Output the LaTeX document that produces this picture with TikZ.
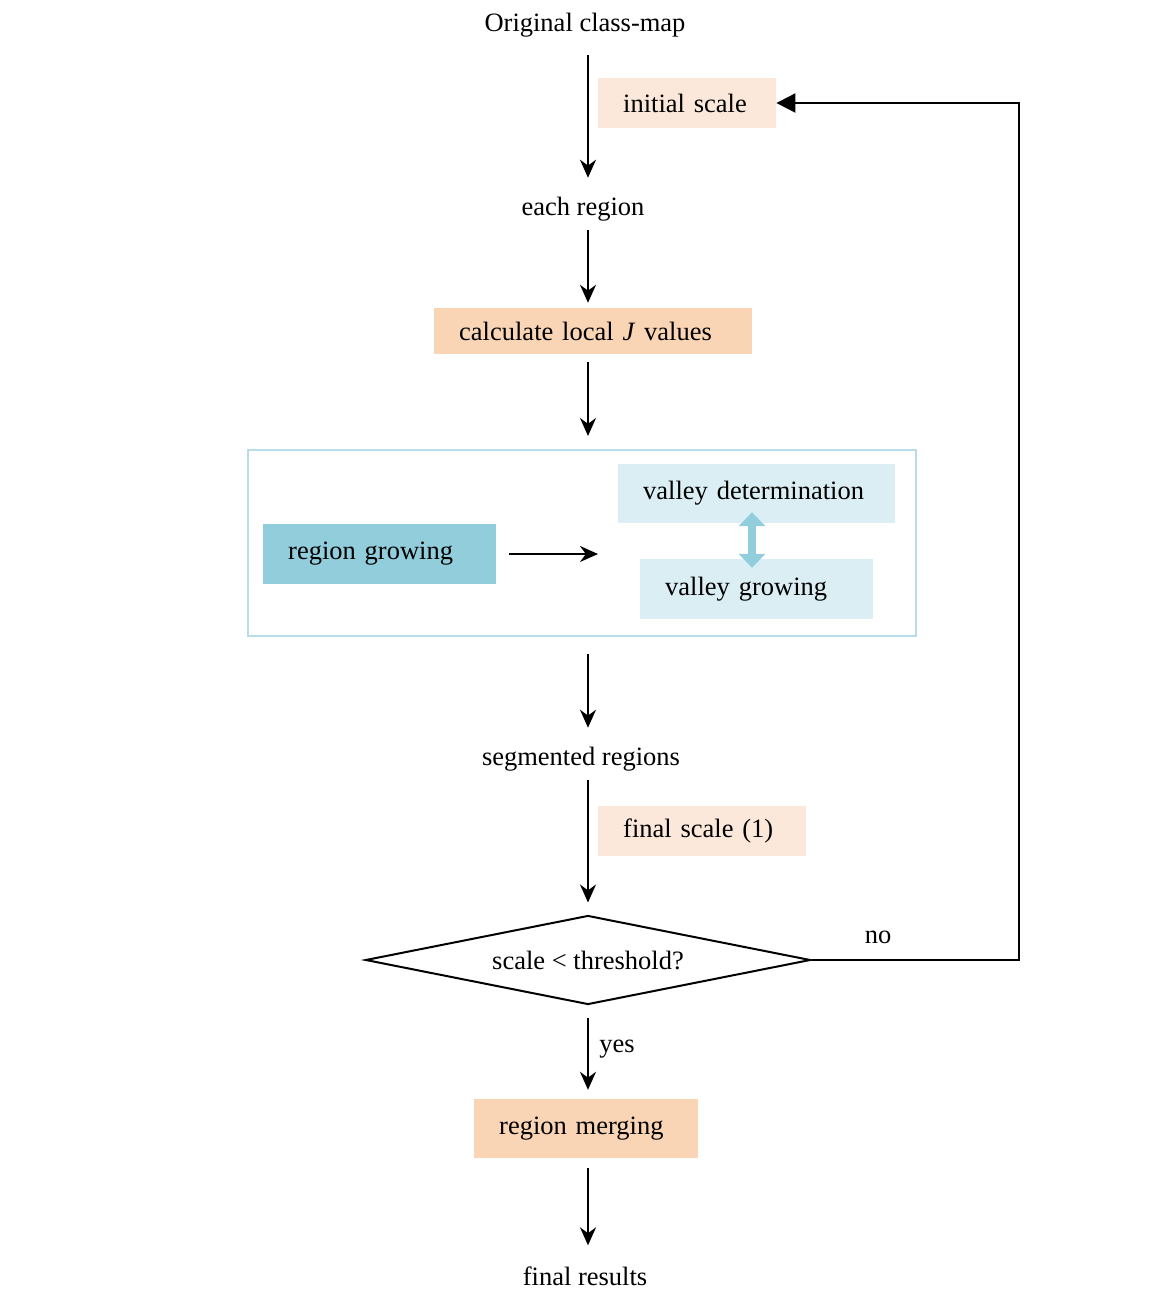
\documentclass[tikz,border=0pt]{standalone}
\usepackage{fontspec}
\setmainfont{Liberation Serif}
\usetikzlibrary{shapes.geometric,arrows.meta,positioning}
\definecolor{peachlight}{HTML}{FCE8DA}
\definecolor{peach}{HTML}{FAD5B5}
\definecolor{tealbox}{HTML}{92CDDC}
\definecolor{icebox}{HTML}{DAEEF3}
\definecolor{frameblue}{HTML}{B7DDE8}

\begin{document}
\begin{tikzpicture}[x=1pt, y=-1pt,
  every node/.style={font=\fontsize{26.5}{31}\selectfont},
  txt/.style={inner sep=0pt},
  box/.style={inner xsep=25pt, inner ysep=0pt, align=left, anchor=west},
  flow/.style={-{Stealth[length=18pt,width=16pt]}, line width=2pt},
  back/.style={-{Triangle[length=19pt,width=19pt]}, line width=2pt},
  swap/.style={{Triangle[length=14pt,width=26pt]}-{Triangle[length=14pt,width=26pt]}, line width=8pt, tealbox}]
  \useasboundingbox (0,0) rectangle (1150,1309);
  \coordinate (ax) at (588,0);
  \coordinate (dax) at (752,0);
  \coordinate (loop) at (1019,0);

  % input and first steps
  \node[txt] (orig) at (585,25) {Original class-map};
  \node[box, fill=peachlight, text width=128pt, minimum height=50pt] (init) at (598,103) {initial scale};
  \node[txt] (each) at (583,209) {each region};
  \node[box, fill=peach, text width=268pt, minimum height=46pt] (calc) at (434,331) {calculate local \textit{J} values};

  % segmentation group
  \node[draw=frameblue, line width=2pt, minimum width=668pt, minimum height=186pt, inner sep=0pt] (grp) at (582,543) {};
  \node[box, fill=tealbox, text width=183pt, minimum height=60pt] (rg) at (263,554) {region growing};
  \node[box, fill=icebox, text width=227pt, minimum height=59pt] (vd) at (618,493.5) {valley determination};
  \node[box, fill=icebox, text width=183pt, minimum height=60pt] (vg) at (640,589) {valley growing};

  % scale loop
  \node[txt] (seg) at (581,759) {segmented regions};
  \node[box, fill=peachlight, text width=158pt, minimum height=50pt] (fs) at (598,831) {final scale (1)};
  \node[draw, diamond, aspect=5, line width=2pt, inner sep=0pt, minimum width=445pt, minimum height=89pt] (dec) at (588,960) {scale < threshold?};
  \node[txt] (no) at (878,937) {no};
  \node[txt] (yes) at (617,1049) {yes};

  % output
  \node[box, fill=peach, text width=174pt, minimum height=59pt] (rm) at (474,1128.5) {region merging};
  \node[txt] (fin) at (585,1276) {final results};

  % connectors
  \draw[flow, shorten <=18pt, shorten >=19pt] (orig.south -| ax) -- (each.north -| ax);
  \draw[flow, shorten <=9pt, shorten >=5pt] (each.south -| ax) -- (calc.north -| ax);
  \draw[flow, shorten <=8pt, shorten >=13pt] (calc.south -| ax) -- (grp.north -| ax);
  \draw[flow, shorten <=13pt, shorten >=20pt] (rg.east) -- (vd.west |- rg.east);
  \draw[swap, shorten <=-11pt, shorten >=-9pt] (vd.south -| dax) -- (vg.north -| dax);
  \draw[flow, shorten <=17pt, shorten >=19pt] (grp.south -| ax) -- (seg.north -| ax);
  \draw[flow, shorten <=9pt, shorten >=12pt] (seg.south -| ax) -- (dec.north);
  \draw[flow, shorten <=12pt, shorten >=9pt] (dec.south) -- (rm.north -| ax);
  \draw[flow, shorten <=10pt, shorten >=21pt] (rm.south -| ax) -- (fin.north -| ax);
  \draw[back] (dec.east) -- (dec.east -| loop) -- (init.east -| loop) -- (init.east);
\end{tikzpicture}
\end{document}
